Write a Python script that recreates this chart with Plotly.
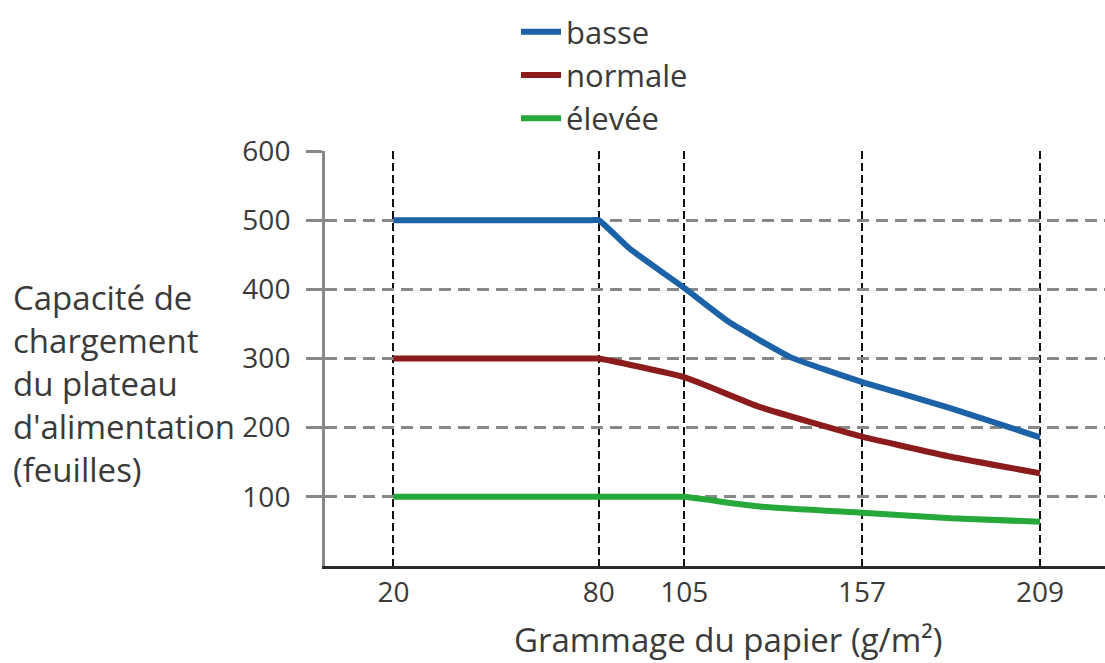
import plotly.graph_objects as go

# Paper weight (g/m²) and tray capacity (sheets) for each paper-thickness setting
grammage_basse = [20, 78, 80, 89, 105, 118, 136, 157, 183, 209]
feuilles_basse = [500, 500, 500, 459, 402, 353, 302, 266, 228, 186]

grammage_normale = [20, 78, 80, 105, 127, 157, 183, 209]
feuilles_normale = [300, 300, 300, 273, 230, 187, 158, 134]

grammage_elevee = [20, 80, 102, 105, 127, 157, 183, 209]
feuilles_elevee = [100, 100, 100, 100, 86, 77, 69, 64]

x_ticks = [20, 80, 105, 157, 209]
y_ticks = [100, 200, 300, 400, 500, 600]

FONT = "Open Sans"
TXT = "#3a3a3a"

fig = go.Figure()
series = [
    ("basse", grammage_basse, feuilles_basse, "#1b62a6"),
    ("normale", grammage_normale, feuilles_normale, "#8c1b1b"),
    ("élevée", grammage_elevee, feuilles_elevee, "#27a83a"),
]
for name, xs, ys, color in series:
    fig.add_trace(go.Scatter(
        x=xs, y=ys, name=name, mode="lines",
        line=dict(color=color, width=6, shape="spline", smoothing=0.4),
    ))

fig.update_xaxes(
    range=[0, 228],
    tickvals=x_ticks,
    ticktext=[str(v) for v in x_ticks],
    tickangle=0,
    showgrid=True, gridcolor="#111111", gridwidth=1.8, griddash="8px,4px",
    showline=True, linecolor="#2a2a2a", linewidth=2.5,
    zeroline=False, ticks="",
    ticklabelstandoff=0,
    tickfont=dict(family=FONT, size=28, color=TXT),
)
fig.update_yaxes(
    range=[0, 600],
    tickvals=y_ticks,
    showgrid=True, gridcolor="#888888", gridwidth=3, griddash="12px,7px",
    showline=True, linecolor="#888888", linewidth=3,
    zeroline=False, ticks="outside", ticklen=16, tickwidth=3, tickcolor="#888888",
    ticklabelstandoff=10,
    tickfont=dict(family=FONT, size=28, color=TXT),
)

fig.add_annotation(
    text="Capacité de<br>chargement<br>du plateau<br>d'alimentation<br>(feuilles)",
    xref="paper", yref="paper", x=-0.402, y=0.44,
    xanchor="left", yanchor="middle", align="left", showarrow=False,
    font=dict(family=FONT, size=33, color=TXT),
)
fig.add_annotation(
    text="Grammage du papier (g/m²)",
    xref="paper", yref="paper", x=0.517, y=-0.178,
    xanchor="center", yanchor="middle", showarrow=False,
    font=dict(family=FONT, size=33, color=TXT),
)

fig.update_layout(
    width=1105, height=663,
    margin=dict(l=325, r=0, t=151, b=97, autoexpand=False),
    plot_bgcolor="white", paper_bgcolor="white",
    showlegend=True,
    legend=dict(
        xref="container", yref="container",
        x=516 / 1105, y=1 - 5 / 663, xanchor="left", yanchor="top",
        font=dict(family=FONT, size=31, color=TXT),
        bgcolor="rgba(0,0,0,0)", borderwidth=0,
        itemwidth=40, tracegroupgap=0,
    ),
)

fig.write_html("out.html")
